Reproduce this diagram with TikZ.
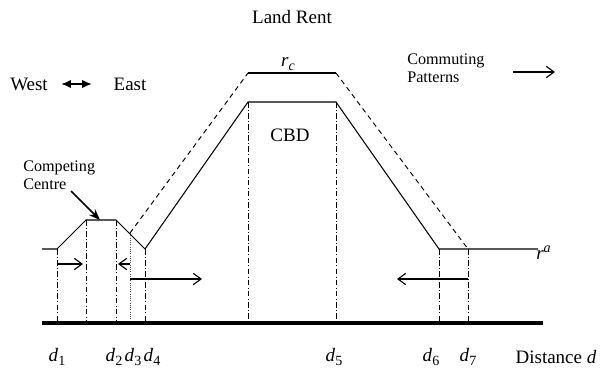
\documentclass[tikz,border=0pt]{standalone}
\usepackage{fontspec}
\setmainfont{Liberation Serif}
\usetikzlibrary{arrows.meta}
\newcommand{\dlab}[1]{\textit{d}\kern0.3pt\raisebox{-0.45ex}{\fontsize{10}{10}\selectfont #1}}
\tikzset{
    rentline/.style = {draw, line width=0.75pt},
    shiftline/.style = {draw, line width=0.7pt, dash pattern=on 3.5pt off 2.8pt},
    guide/.style = {draw, line width=0.6pt, dash pattern=on 4pt off 1.6pt on 0.7pt off 1.6pt},
    axisline/.style = {draw, line width=2.4pt},
    flow/.style = {draw, line width=0.8pt, -{Straight Barb[length=5.5pt,width=8pt]}},
    label/.style = {font=\fontsize{13.5}{16}\selectfont, inner sep=0pt},
    small/.style = {font=\fontsize{11.5}{12.5}\selectfont, inner sep=0pt, align=left}
}
\begin{document}
\begin{tikzpicture}[x=0.025cm,y=-0.025cm]
                \useasboundingbox (0,0) rectangle (600,368);
                \coordinate (r0) at (42,249);
                \coordinate (r1) at (57,249);
                \coordinate (c1) at (86,220);
                \coordinate (c2) at (116,220);
                \coordinate (r3) at (130,233);
                \coordinate (r4) at (145,249);
                \coordinate (b1) at (248,102);
                \coordinate (b2) at (336,102);
                \coordinate (r6) at (439,249);
                \coordinate (r8) at (538,249);
                \coordinate (t1) at (248,73);
                \coordinate (t2) at (336,73);
                \coordinate (r7) at (468,249);
                \coordinate (a0) at (42,323);
                \coordinate (a1) at (543,323);
                \draw[rentline] (r0) -- (r1) -- (c1) -- (c2) -- (r4) -- (b1) -- (b2) -- (r6) -- (r8);
                \draw[shiftline] (r3) -- (t1);
                \draw[rentline] (t1) -- (t2);
                \draw[shiftline] (t2) -- (r7);
                \foreach \p in {r1,c1,c2,r4,b1,b2,r6,r7}
                    \draw[guide] (\p) -- (\p |- a0);
                \draw[line width=0.6pt, densely dotted, black!70] (r3) -- (r3 |- a0);
                \draw[axisline] (a0) -- (a1);
                \coordinate (f1) at (57,264);
                \coordinate (f2) at (83,264);
                \coordinate (f3) at (130,264);
                \coordinate (f4) at (118,264);
                \coordinate (f5) at (130,279);
                \coordinate (f6) at (202,279);
                \coordinate (f7) at (468,279);
                \coordinate (f8) at (397,279);
                \draw[flow] (f1) -- (f2);
                \draw[flow] (f3) -- (f4);
                \draw[flow] (f5) -- (f6);
                \draw[flow] (f7) -- (f8);
                \node[label] (rent) at (292,17) {Land Rent};
                \node[label] (west) at (29,84) {West};
                \node[label] (east) at (130,84) {East};
                \draw[line width=1.3pt, {Latex[length=7pt,width=6pt]}-{Latex[length=7pt,width=6pt]}] (west.east) ++(13,0) coordinate (w1) -- ++(31,0) coordinate (w2);
                \node[label] (rc) at (288,64) {\textit{r}\raisebox{-0.45ex}{\fontsize{10}{10}\selectfont\itshape c}};
                \node[label] (cbd) at (290,135) {CBD};
                \node[small, anchor=west] (commute) at (407,68) {Commuting\\Patterns};
                \coordinate (g1) at (513,72);
                \coordinate (g2) at (555,72);
                \draw[flow] (g1) -- (g2);
                \node[small, anchor=west] (centre) at (23,175) {Competing\\Centre};
                \coordinate (k1) at (71,191);
                \draw[line width=1.1pt, -{Stealth[length=8pt,width=6pt]}] (k1) -- (c1 -| 100,0);
                \node[label, anchor=base west] (ra) at (536,259) {\textit{r}\raisebox{0.7ex}{\fontsize{10}{10}\selectfont\itshape a}};
                \node[label] (d1) at (57,357) {\dlab{1}};
                \node[label] (d2) at (114,357) {\dlab{2}};
                \node[label] (d3) at (133,357) {\dlab{3}};
                \node[label] (d4) at (152,357) {\dlab{4}};
                \node[label] (d5) at (334,357) {\dlab{5}};
                \node[label] (d6) at (431,357) {\dlab{6}};
                \node[label] (d7) at (468,357) {\dlab{7}};
                \node[label] (dist) at (556,357) {Distance \textit{d}};
            \end{tikzpicture}
\end{document}
